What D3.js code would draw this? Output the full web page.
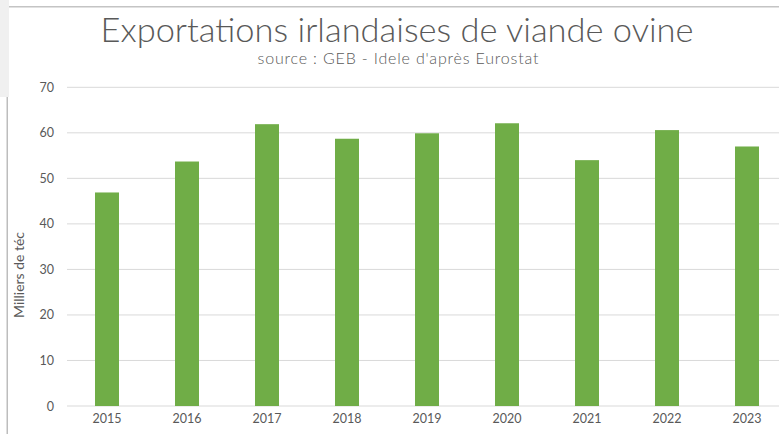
<!DOCTYPE html>
<html>
<head>
<meta charset="utf-8">
<script src="https://cdn.jsdelivr.net/npm/d3@7"></script>
<style>
  body { margin: 0; background: #fff; }
  svg { display: block; font-family: "Lato", "DejaVu Sans", sans-serif; }
</style>
</head>
<body>
<div id="chart"></div>
<script>
const years = ["2015", "2016", "2017", "2018", "2019", "2020", "2021", "2022", "2023"];
const exports = [46.9, 53.7, 61.9, 58.7, 59.9, 62.1, 54.0, 60.6, 57.0];
const yTicks = [0, 10, 20, 30, 40, 50, 60, 70];

const width = 779;
const height = 434;

const svg = d3.select("#chart")
    .append("svg")
    .attr("width", width)
    .attr("height", height);

// frame bits from the original screenshot
svg.append("rect").attr("x", 0).attr("y", 0).attr("width", 9).attr("height", 97).attr("fill", "#f0f0f0");
svg.append("rect").attr("x", 9).attr("y", 6).attr("width", width - 9).attr("height", 1.5).attr("fill", "#c4c4c4");
svg.append("rect").attr("x", 6.5).attr("y", 97).attr("width", 1.5).attr("height", height - 97).attr("fill", "#bdbdbd");

const xScale = d3.scaleBand()
    .domain(years)
    .range([67, 787])
    .paddingInner(0.7)
    .paddingOuter(0.35);

const yScale = d3.scaleLinear()
    .domain([0, 70])
    .range([406, 87.3]);

// gridlines
svg.append("g")
    .selectAll("line")
    .data(yTicks)
    .enter()
    .append("line")
    .attr("x1", 67)
    .attr("x2", width)
    .attr("y1", d => yScale(d))
    .attr("y2", d => yScale(d))
    .attr("stroke", "#d9d9d9")
    .attr("stroke-width", 1);

const yAxis = d3.axisLeft(yScale).tickValues(yTicks).tickSize(0).tickPadding(0);
svg.append("g")
    .attr("transform", "translate(54, 0)")
    .call(yAxis)
    .call(g => g.select(".domain").remove())
    .call(g => g.selectAll("text")
        .attr("fill", "#595959")
        .style("font-size", "12.5px")
        .style("font-family", "Lato, sans-serif"));

const xAxis = d3.axisBottom(xScale).tickSize(0).tickPadding(0);
svg.append("g")
    .attr("transform", "translate(0, 414)")
    .call(xAxis)
    .call(g => g.select(".domain").remove())
    .call(g => g.selectAll("text")
        .attr("fill", "#595959")
        .style("font-size", "12.5px")
        .style("font-family", "Lato, sans-serif"));

svg.selectAll(".bar")
    .data(years)
    .enter()
    .append("rect")
    .attr("class", "bar")
    .attr("x", d => xScale(d))
    .attr("y", (d, i) => yScale(exports[i]))
    .attr("width", xScale.bandwidth())
    .attr("height", (d, i) => yScale(0) - yScale(exports[i]))
    .attr("fill", "#70ad47");

svg.append("text")
    .attr("x", 397)
    .attr("y", 42)
    .attr("text-anchor", "middle")
    .attr("fill", "#595959")
    .attr("textLength", 593)
    .attr("lengthAdjust", "spacingAndGlyphs")
    .style("font-size", "33px")
    .style("font-weight", 300)
    .text("Exportations irlandaises de viande ovine");

svg.append("text")
    .attr("x", 398)
    .attr("y", 64)
    .attr("text-anchor", "middle")
    .attr("fill", "#595959")
    .attr("textLength", 281)
    .attr("lengthAdjust", "spacing")
    .style("font-size", "16px")
    .style("font-weight", 300)
    .text("source : GEB - Idele d'après Eurostat");

svg.append("text")
    .attr("transform", "translate(24, 275) rotate(-90)")
    .attr("text-anchor", "middle")
    .attr("fill", "#595959")
    .attr("textLength", 86)
    .attr("lengthAdjust", "spacing")
    .style("font-size", "14px")
    .text("Milliers de téc");
</script>
</body>
</html>
